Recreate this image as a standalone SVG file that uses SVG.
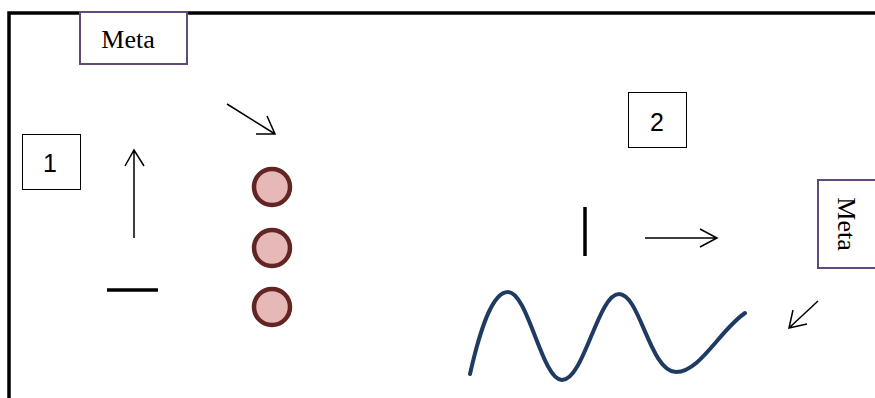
<svg xmlns="http://www.w3.org/2000/svg" width="875" height="398" viewBox="0 0 875 398">
<style>
.frame{fill:none;stroke:#000;stroke-width:3.5}
.meta{fill:#fff;stroke:#604a7b;stroke-width:2}
.num{fill:#fff;stroke:#000;stroke-width:1}
.serif{font-family:"Liberation Serif",serif;font-size:26px;fill:#000}
.sans{font-family:"Liberation Sans",sans-serif;font-size:25px;fill:#000}
.arr{fill:none;stroke:#000;stroke-width:1.5}
.bar{stroke:#000;stroke-width:3.5}
.dot{fill:#e6b9b8;stroke:#632523;stroke-width:4.5}
</style>
<path class="frame" d="M9,398 V13 H875"/>
<g id="meta-top"><rect class="meta" x="80" y="12" width="107" height="52"/><text class="serif" x="128" y="48" text-anchor="middle">Meta</text></g>
<g id="box1"><rect class="num" x="22.5" y="134.5" width="58" height="55"/><text class="sans" x="50" y="172" text-anchor="middle">1</text></g>
<g id="box2"><rect class="num" x="628.5" y="92.5" width="58" height="55"/><text class="sans" x="657" y="131" text-anchor="middle">2</text></g>
<g id="meta-right"><rect class="meta" x="818" y="180" width="60" height="88"/><text class="serif" transform="translate(838,224) rotate(90)" text-anchor="middle">Meta</text></g>
<g id="dots"><circle class="dot" cx="272" cy="187" r="18"/><circle class="dot" cx="272" cy="248" r="18"/><circle class="dot" cx="272" cy="307" r="18"/></g>
<g id="connectors">
<path class="arr" d="M134,238 V150 M125,166 L134,150 L144,166"/>
<path class="arr" d="M227,104 L275,134 M256,134 L275,134 L267,116"/>
<path class="arr" d="M645,238 H717 M700,229 L717,238 L700,247"/>
<path class="arr" d="M818,301 L789,328 M793,310 L789,328 L807,324"/>
<line class="bar" x1="107" y1="290" x2="158" y2="290"/>
<line class="bar" x1="585" y1="207" x2="585" y2="256"/>
<path d="M470,374 C480,330 492,292 508,292 C528,292 542,380 562,380 C584,380 598,294 619,294 C640,294 650,372 676,372 C700,372 720,330 745,313" fill="none" stroke="#1f3b63" stroke-width="4" stroke-linecap="round"/>
</g>
</svg>
